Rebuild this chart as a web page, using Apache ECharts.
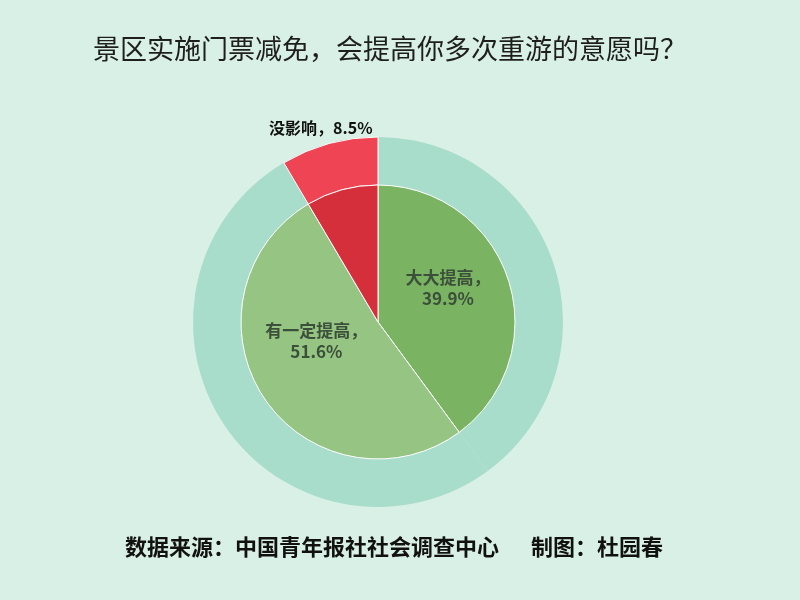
<!DOCTYPE html>
<html>
<head>
<meta charset="utf-8">
<script src="https://cdn.jsdelivr.net/npm/echarts@6/dist/echarts.min.js"></script>
<style>
  html, body { margin: 0; padding: 0; background: #d9f0e6; }
  #chart { width: 800px; height: 600px; }
</style>
</head>
<body>
<div id="chart"></div>
<script>
// 数据
const categories = ['大大提高', '有一定提高', '没影响']
const values = [39.9, 51.6, 8.5]
const innerColors = ['#7ab462', '#95c483', '#d52f3b']
const outerColors = ['#a8dccb', '#a8dccb', '#ee4454']

const chart = echarts.init(document.getElementById('chart'))

const innerData = categories.map((name, i) => ({
    name: name,
    value: values[i],
    itemStyle: { color: innerColors[i] },
    label: name === '没影响' ? { show: false } : {}
}))

// 外圈只有“没影响”单独着色，其余连成一片
const outerData = categories.map((name, i) => ({
    name: name,
    value: values[i],
    itemStyle: name === '没影响'
        ? { color: outerColors[i], borderColor: '#ffffff', borderWidth: 1 }
        : { color: outerColors[i], borderWidth: 0 },
    label: { show: name === '没影响' }
}))

// 内圈标签微调
innerData[0].label = { offset: [2, -12] }
innerData[1].label = { offset: [-2, -20] }

const opt = {
    backgroundColor: '#d9f0e6',
    title: {
        text: '景区实施门票减免，会提高你多次重游的意愿吗？',
        left: 88,
        top: 30,
        textStyle: {
            fontFamily: 'Noto Sans CJK SC',
            fontSize: 27,
            fontWeight: 'normal',
            color: '#1e1e1e'
        }
    },
    graphic: [{
        type: 'text',
        left: 125,
        top: 536,
        style: {
            text: '数据来源：中国青年报社社会调查中心　  制图：杜园春',
            font: 'bold 22px "Noto Sans CJK SC"',
            fill: '#111'
        }
    }],
    series: [
        {
            name: '外圈',
            type: 'pie',
            center: [378, 322],
            radius: [137, 185],
            startAngle: 90,
            clockwise: true,
            silent: true,
            label: {
                position: 'outside',
                formatter: '{b}，{d}%',
                fontFamily: 'Noto Sans CJK SC',
                fontSize: 16,
                fontWeight: 'bold',
                color: '#111',
                offset: [50, -10]
            },
            labelLine: { show: false, length: 6, length2: 0 },
            data: outerData
        },
        {
            name: '内圈',
            type: 'pie',
            center: [378, 322],
            radius: [0, 137],
            startAngle: 90,
            clockwise: true,
            silent: true,
            itemStyle: { borderColor: '#ffffff', borderWidth: 1 },
            label: {
                position: 'inside',
                formatter: '{b}，\n{d}%',
                fontFamily: 'Noto Sans CJK SC',
                fontSize: 17,
                fontWeight: 'bold',
                lineHeight: 21,
                color: '#3c4f3a'
            },
            data: innerData
        }
    ]
}
chart.setOption(opt)
</script>
</body>
</html>
